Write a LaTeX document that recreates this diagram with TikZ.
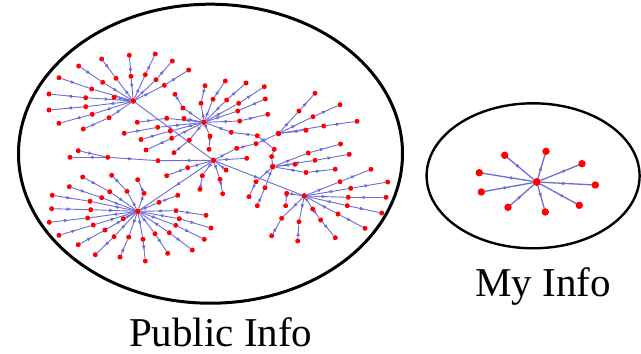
\documentclass[tikz,border=0pt]{standalone}
\usepackage{fontspec}
\setmainfont{Liberation Serif}
\usetikzlibrary{arrows.meta,decorations.markings,shapes.geometric}
\definecolor{edgecol}{RGB}{108,108,214}
\definecolor{dotred}{RGB}{255,0,0}
\pgfdeclarelayer{edges}
\pgfsetlayers{edges,main}

% a spoke: hub -> inner dot -> outer dot, each segment with its own arrow style
\newcommand\netspoke[6]{%
  \node[dot] (#2i) at (#3) {};
  \node[dot] (#2o) at (#4) {};
  \begin{pgfonlayer}{edges}
    \draw[#5] (#1) -- (#2i);
    \draw[#6] (#2i) -- (#2o);
  \end{pgfonlayer}}
% a single leaf hanging off a node
\newcommand\netleaf[4]{%
  \node[dot] (#2) at (#3) {};
  \begin{pgfonlayer}{edges}\draw[#4] (#1) -- (#2);\end{pgfonlayer}}
% an edge between two existing nodes
\newcommand\netlink[3]{%
  \begin{pgfonlayer}{edges}\draw[#3] (#1) -- (#2);\end{pgfonlayer}}

\begin{document}
\begin{tikzpicture}[x=1pt,y=-1pt,
  >={Latex[length=4.6pt,width=3.8pt]},
  dot/.style={circle,fill=dotred,inner sep=0pt,minimum size=5pt},
  hub/.style={dot,minimum size=5.6pt},
  bigdot/.style={dot,minimum size=7.4pt},
  bighub/.style={dot,minimum size=8pt},
  link/.style={color=edgecol,line width=0.9pt},
  toout/.style={link,postaction={decorate},
    decoration={markings,mark=at position 0.5 with {\arrow{>}}}},
  toin/.style={link,postaction={decorate},
    decoration={markings,mark=at position 0.5 with {\arrowreversed{>}}}},
  sout/.style={toout,line width=1.3pt},
  sin/.style={toin,line width=1.3pt},
  setline/.style={ellipse,draw=black,inner sep=0pt},
  caption/.style={font=\fontsize{41}{41}\selectfont,anchor=base,inner sep=0pt}]

\useasboundingbox (0,0) rectangle (641,354);

% the two sets
\node[setline,line width=3pt,minimum width=384pt,minimum height=299pt] (publicset) at (210.5,153.7) {};
\node[setline,line width=2.4pt,minimum width=213pt,minimum height=145pt] (myset) at (533.1,175.8) {};

% hubs of the public network
\node[hub] (H1) at (133.3,101) {};
\node[hub] (H2) at (204,122.3) {};
\node[hub] (H3) at (213.4,160.3) {};
\node[hub] (H4) at (278.5,133.5) {};
\node[hub] (H5) at (272.7,166.7) {};
\node[hub] (H6) at (304.3,196) {};
\node[hub] (H7) at (137.7,211.3) {};

% links between hubs
\netlink{H1}{H3}{toout}
\netlink{H3}{H7}{toout}
\netlink{H3}{H6}{toout}
\node[dot] (B) at (236.7,148.3) {};
\node[dot] (E) at (256,143.7) {};
\netlink{H3}{B}{toout}
\netlink{B}{E}{toout}
\netlink{E}{H4}{toout}
\node[dot] (A) at (231.3,132.3) {};
\node[dot] (D) at (257.3,135.7) {};
\node[dot] (G) at (274.2,149.3) {};
\node[dot] (F) at (271.7,156.5) {};
\netlink{H2}{A}{toin}
\netlink{A}{D}{toin}
\netlink{D}{G}{toout}
\netlink{G}{F}{toout}
\netlink{F}{H5}{toin}

% hub 1
\netspoke{H1}{a1}{116,78.3}{101.7,59}{toout}{toin}
\netspoke{H1}{a2}{131,76.3}{129.3,55.3}{toin}{toout}
\netspoke{H1}{a3}{145.3,74.7}{155.3,54}{toout}{toout}
\netspoke{H1}{a4}{156,79.7}{172.3,61}{toout}{toout}
\netspoke{H1}{a5}{164.3,85.3}{188.7,70}{toout}{toout}
\netspoke{H1}{a6}{102.7,82.3}{78.7,66}{toin}{toin}
\netspoke{H1}{a7}{91.7,89}{59,77.7}{toout}{toin}
\netspoke{H1}{a8}{85.7,97.7}{49,94}{toin}{toout}
\netspoke{H1}{a9}{85.7,106.7}{49,110}{toout}{toout}
\netspoke{H1}{a10}{92.3,114.3}{59,123.3}{toin}{toout}
\netspoke{H1}{a11}{109,117.7}{83.3,129}{toin}{toin}
\netleaf{H1}{a12}{114,97.3}{toin}

% hub 2
\netspoke{H2}{b1}{183,108}{175,94.3}{toin}{toin}
\netspoke{H2}{b2}{201,103.3}{205,85.7}{toout}{toin}
\netspoke{H2}{b3}{213,99.3}{225.3,81}{toout}{toout}
\netspoke{H2}{b4}{226.7,100}{246,83}{toin}{toout}
\netspoke{H2}{b5}{238.7,103.3}{264.3,86.7}{toout}{toout}
\netspoke{H2}{b6}{237.7,111}{265.3,99}{toout}{toin}
\netspoke{H2}{b7}{239.7,121}{267.7,114.3}{toin}{toout}
\netleaf{H2}{b8}{184,118.5}{toin}
\netspoke{H2}{b9}{166.7,118.3}{137.3,122.3}{toout}{toin}
\netspoke{H2}{b10}{157.7,127.3}{124.3,133.3}{toin}{toin}
\netspoke{H2}{b11}{170.3,131}{141,139.5}{toout}{toin}
\netspoke{H2}{b12}{171.7,138.3}{146,150}{toin}{toout}
\netspoke{H2}{b13}{189.3,140}{174,152.7}{toout}{toin}
\netspoke{H2}{b14}{210,136}{209,149.3}{toout}{toout}

% hub 3
\node[dot] (c1) at (158,160.7) {};
\node[dot] (c2) at (107.7,157.3) {};
\node[dot] (c3) at (70,157.3) {};
\node[dot] (c4) at (78.3,150.7) {};
\netlink{H3}{c1}{toout}
\netlink{c1}{c2}{toin}
\netlink{c2}{c3}{toout}
\netlink{c2}{c4}{toin}
\netspoke{H3}{c5}{187.7,167.7}{166.7,175.7}{toin}{toout}
\netspoke{H3}{c6}{202.3,175.7}{200,189.3}{toout}{toin}
\netspoke{H3}{c7}{220,179.3}{222.7,193.7}{toout}{toout}
\netleaf{H3}{c8}{226,170}{toin}
\netleaf{H3}{c9}{246.7,158.3}{toout}

% hub 4
\netspoke{H4}{d1}{299,111}{315,93.3}{toout}{toout}
\netspoke{H4}{d2}{313,116.7}{340,104.7}{toout}{toout}
\netspoke{H4}{d3}{323.7,126}{357,121.3}{toin}{toout}
\netleaf{H4}{d4}{306,130.3}{toin}

% hub 5
\netspoke{H5}{e1}{308.3,153}{340.5,144}{toout}{toout}
\netspoke{H5}{e2}{315,160.3}{349.2,154.3}{toin}{toout}
\netleaf{H5}{e3}{295,164.3}{toin}
\netspoke{H5}{e4}{306,172.5}{335.2,169.2}{toin}{toout}
\netspoke{H5}{e5}{256,181.7}{249,196.7}{toout}{toout}
\netspoke{H5}{e6}{265,187.7}{257.3,205.7}{toout}{toin}

% hub 6
\netspoke{H6}{f1}{340,181.7}{371,169.3}{toout}{toout}
\netspoke{H6}{f2}{350.7,188.3}{387.7,182}{toin}{toout}
\netspoke{H6}{f3}{348.3,197.3}{386,197.3}{toout}{toout}
\netspoke{H6}{f4}{347.3,205.7}{381.7,213}{toin}{toout}
\netspoke{H6}{f5}{338,214}{365,228.3}{toin}{toout}
\node[dot] (f6a) at (312.7,209) {};
\node[dot] (f6b) at (320.7,220) {};
\node[dot] (f6c) at (335.3,237.7) {};
\netlink{H6}{f6a}{toout}
\netlink{f6a}{f6b}{toout}
\netlink{f6b}{f6c}{toout}
\netspoke{H6}{f7}{299,221.7}{297.7,241}{toout}{toin}
\netspoke{H6}{f8}{281.7,218.3}{271.7,235.7}{toout}{toin}
\node[dot] (f9a) at (286.7,193.3) {};
\node[dot] (f9b) at (285.7,205.7) {};
\netlink{H6}{f9a}{toin}
\netlink{f9a}{f9b}{toout}

% hub 7
\netspoke{H7}{g1}{109.7,191.7}{82.7,177}{toin}{toin}
\netspoke{H7}{g2}{127,191.3}{111.7,175.3}{toout}{toin}
\netspoke{H7}{g3}{144,193.3}{137.7,179.7}{toin}{toout}
\netspoke{H7}{g4}{101.7,197.7}{69.3,186.7}{toin}{toin}
\netspoke{H7}{g5}{90,201.3}{52.3,195.3}{toout}{toin}
\netspoke{H7}{g6}{90.7,209.7}{51.7,208.7}{toin}{toin}
\netspoke{H7}{g7}{87.7,218}{49.3,222.3}{toout}{toin}
\netspoke{H7}{g8}{93.3,225}{59,235.3}{toin}{toin}
\netspoke{H7}{g9}{105,230}{78.3,244.7}{toin}{toin}
\netspoke{H7}{g10}{114,236.7}{95.3,254.7}{toin}{toout}
\netspoke{H7}{g11}{128.7,237}{120,257}{toout}{toin}
\netspoke{H7}{g12}{143,239.3}{145.3,261}{toout}{toout}
\netspoke{H7}{g13}{155,233.7}{167.7,253.3}{toout}{toout}
\netspoke{H7}{g14}{169.3,232.7}{192.3,250}{toin}{toout}
\netspoke{H7}{g15}{175.7,225.3}{204.3,239.3}{toout}{toout}
\netspoke{H7}{g16}{179.3,218.7}{211,228}{toin}{toout}
\netspoke{H7}{g17}{176,210.7}{206,215.3}{toin}{toout}
\netspoke{H7}{g18}{159,202.3}{177.7,195.3}{toout}{toout}
\netleaf{H7}{g19}{123.3,218.7}{toin}

% the personal network
\node[bighub] (S) at (536.8,182) {};
\netleaf{S}{s1}{504.7,155.3}{sin}
\netleaf{S}{s2}{546,151.3}{sout}
\netleaf{S}{s3}{582,163.7}{sin}
\netleaf{S}{s4}{595.3,185}{sout}
\netleaf{S}{s5}{579.3,205.3}{sin}
\netleaf{S}{s6}{545.3,212}{sout}
\netleaf{S}{s7}{508,207.3}{sin}
\netleaf{S}{s8}{481.3,192}{sin}
\netleaf{S}{s9}{479.3,172.7}{sout}
\foreach \n in {s1,s2,s3,s4,s5,s6,s7,s8,s9}
  \node[bigdot] at (\n) {};

% captions
\node[caption] (publiclabel) at (220.8,346.7) {Public Info};
\node[caption] (mylabel) at (543.3,296.7) {My Info};
\end{tikzpicture}
\end{document}
